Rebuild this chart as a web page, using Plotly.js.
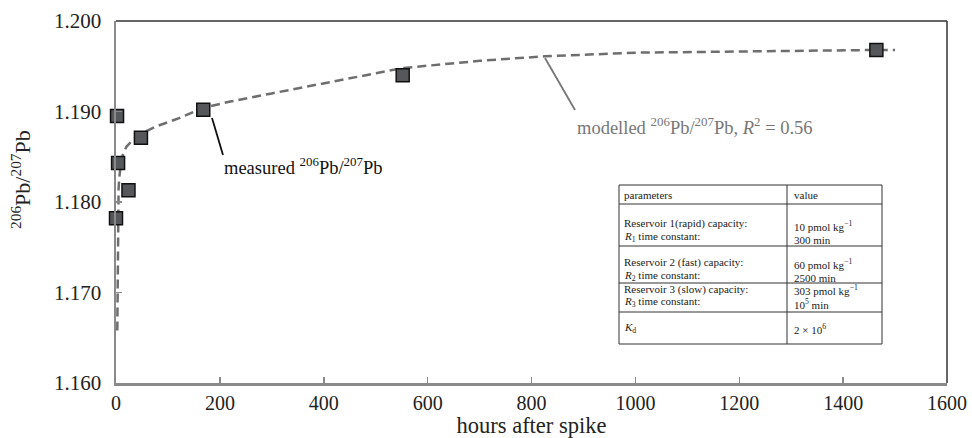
<!DOCTYPE html>
<html>
<head>
<meta charset="utf-8">
<script src="https://cdn.plot.ly/plotly-3.0.1.min.js"></script>
<style>html,body{margin:0;padding:0;background:#fff;}#chart{width:972px;height:438px;}</style>
</head>
<body>
<div id="chart"></div>
<script>
// measured data
const measuredHours = [0, 2, 4, 24, 48, 168, 552, 1464];
const measuredRatio = [1.1782, 1.1895, 1.1843, 1.1813, 1.1871, 1.1902, 1.1940, 1.1968];

// modelled curve
const modelHours = [2.5, 3, 3.5, 4, 5, 6.5, 9, 13, 20, 33, 50, 75, 100, 123, 168, 220, 300, 400, 552, 700, 825, 1000, 1259, 1464, 1500];
const modelRatio = [1.1658, 1.1720, 1.1775, 1.1800, 1.1815, 1.1828, 1.1840, 1.1852, 1.1861, 1.1869, 1.1876, 1.1883, 1.1888, 1.1893, 1.1904, 1.1911, 1.1920, 1.1931, 1.1948, 1.1956, 1.1961, 1.1965, 1.1967, 1.1968, 1.1968];

// axis ticks
const xTicks = [0, 200, 400, 600, 800, 1000, 1200, 1400, 1600];
const yTicks = [1.160, 1.170, 1.180, 1.190, 1.200];
const yTickText = ["1.160", "1.170", "1.180", "1.190", "1.200"];

// table texts
const tableParams = [
  ["parameters"],
  ["Reservoir 1(rapid) capacity:", "<i>R</i><sub>1</sub> time constant:"],
  ["Reservoir 2 (fast) capacity:", "<i>R</i><sub>2</sub> time constant:"],
  ["Reservoir 3 (slow) capacity:", "<i>R</i><sub>3</sub> time constant:"],
  ["<i>K</i><sub>d</sub>"]
];
const tableValues = [
  ["value"],
  ["10 pmol kg<sup>−1</sup>", "300 min"],
  ["60 pmol kg<sup>−1</sup>", "2500 min"],
  ["303 pmol kg<sup>−1</sup>", "10<sup>5</sup> min"],
  ["2 × 10<sup>6</sup>"]
];

const FONT = "Liberation Serif, Times New Roman, serif";
const W = 972, H = 438;
const M = {l: 116, r: 25, t: 21, b: 55};
const PW = W - M.l - M.r, PH = H - M.t - M.b;
const px = x => (x - M.l) / PW;
const py = y => (H - M.b - y) / PH;

const shapes = [];
const annotations = [];

// top & right frame lines (dark)
shapes.push({type: 'line', xref: 'paper', yref: 'paper', x0: 0, x1: 1, y0: 1, y1: 1, line: {color: '#333', width: 1.5}});
shapes.push({type: 'line', xref: 'paper', yref: 'paper', x0: 1, x1: 1, y0: 0, y1: 1, line: {color: '#333', width: 1.5}});

// table geometry (pixels)
const tL = 619, tR = 882, tD = 787;
const rowEdges = [185, 204, 246, 283, 312, 344];
shapes.push({type: 'rect', xref: 'paper', yref: 'paper', x0: px(tL), x1: px(tR), y0: py(rowEdges[0]), y1: py(rowEdges[5]), line: {color: '#333', width: 1}, fillcolor: 'rgba(255,255,255,1)', layer: 'above'});
shapes.push({type: 'line', xref: 'paper', yref: 'paper', x0: px(tD), x1: px(tD), y0: py(rowEdges[0]), y1: py(rowEdges[5]), line: {color: '#333', width: 1}});
for (let i = 1; i < 5; i++) {
  shapes.push({type: 'line', xref: 'paper', yref: 'paper', x0: px(tL), x1: px(tR), y0: py(rowEdges[i]), y1: py(rowEdges[i]), line: {color: '#333', width: 1}});
}
const paramY = [[195], [223, 237], [262, 276], [289, 302], [328]];
const valueY = [[195], [226, 240], [264, 278], [290, 304], [329]];
tableParams.forEach((rows, i) => rows.forEach((t, j) => {
  annotations.push({xref: 'paper', yref: 'paper', x: px(tL + 3), y: py(paramY[i][j]), xanchor: 'left', yanchor: 'middle', text: t, showarrow: false, font: {family: FONT, size: 11, color: '#222'}});
}));
tableValues.forEach((rows, i) => rows.forEach((t, j) => {
  annotations.push({xref: 'paper', yref: 'paper', x: px(tD + 5), y: py(valueY[i][j]), xanchor: 'left', yanchor: 'middle', text: t, showarrow: false, font: {family: FONT, size: 11, color: '#222'}});
}));

// pointer lines
shapes.push({type: 'line', xref: 'paper', yref: 'paper', x0: px(212), y0: py(118), x1: px(223), y1: py(155), line: {color: '#111', width: 1.8}});
shapes.push({type: 'line', xref: 'paper', yref: 'paper', x0: px(545), y0: py(58), x1: px(575), y1: py(110), line: {color: '#777', width: 1.8}});

annotations.push({xref: 'paper', yref: 'paper', x: px(222), y: py(166), xanchor: 'left', yanchor: 'middle', text: 'measured <sup>206</sup>Pb/<sup>207</sup>Pb', showarrow: false, font: {family: FONT, size: 18.5, color: '#111'}});
annotations.push({xref: 'paper', yref: 'paper', x: px(575), y: py(126), xanchor: 'left', yanchor: 'middle', text: 'modelled <sup>206</sup>Pb/<sup>207</sup>Pb, <i>R</i><sup>2</sup> = 0.56', showarrow: false, font: {family: FONT, size: 18.5, color: '#777'}});

// y-axis title
annotations.push({xref: 'paper', yref: 'paper', x: px(21), y: py(180), xanchor: 'center', yanchor: 'middle', textangle: -90, text: '<sup>206</sup>Pb/<sup>207</sup>Pb', showarrow: false, font: {family: FONT, size: 22, color: '#222'}});

const traces = [
  {x: modelHours, y: modelRatio, type: 'scatter', mode: 'lines', line: {color: '#6e6e6e', width: 2.5, dash: '9px,5px'}, hoverinfo: 'skip', showlegend: false},
  {x: measuredHours, y: measuredRatio, type: 'scatter', mode: 'markers', marker: {symbol: 'square', size: 13, color: '#55575b', line: {color: '#111', width: 1.5}}, showlegend: false, cliponaxis: false}
];

const layout = {
  width: W, height: H,
  margin: M,
  paper_bgcolor: '#fff', plot_bgcolor: '#fff',
  font: {family: FONT, color: '#222'},
  showlegend: false,
  xaxis: {
    range: [0, 1600], tickvals: xTicks, ticktext: xTicks.map(String),
    showgrid: false, zeroline: false,
    showline: true, linecolor: '#8a8a8a', linewidth: 2.5,
    ticks: 'inside', ticklen: 6, tickcolor: '#8a8a8a', tickwidth: 1.5,
    tickfont: {family: FONT, size: 20, color: '#222'},
    title: {text: 'hours after spike', font: {family: FONT, size: 22.5, color: '#222'}, standoff: 1}
  },
  yaxis: {
    range: [1.160, 1.200], tickvals: yTicks, ticktext: yTickText,
    showgrid: false, zeroline: false,
    showline: true, linecolor: '#8a8a8a', linewidth: 2.5,
    ticks: 'inside', ticklen: 6, tickcolor: '#8a8a8a', tickwidth: 1.5,
    ticklabelstandoff: 8,
    tickfont: {family: FONT, size: 21, color: '#222'}
  },
  shapes: shapes,
  annotations: annotations
};

Plotly.newPlot('chart', traces, layout, {displayModeBar: false, staticPlot: true});
</script>
</body>
</html>
